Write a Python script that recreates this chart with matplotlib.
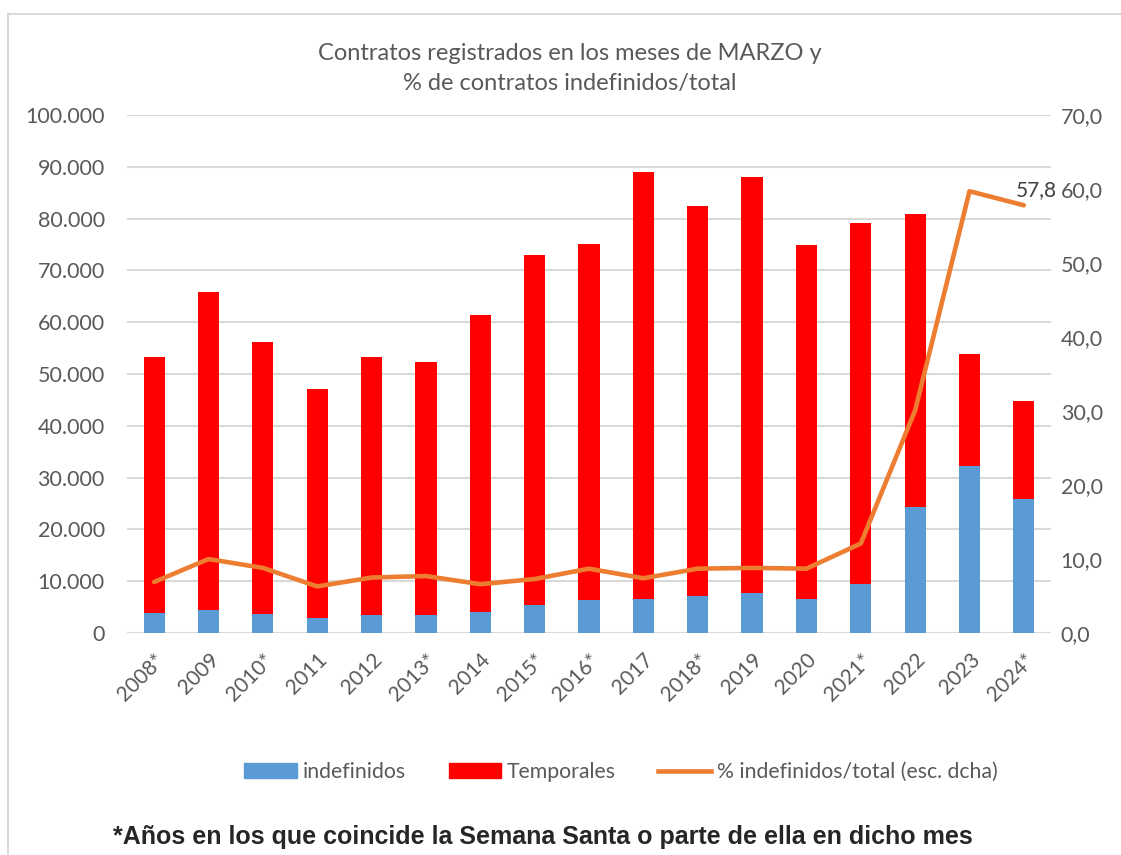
import numpy as np
import matplotlib.pyplot as plt
from matplotlib.lines import Line2D
from matplotlib.patches import Patch
from matplotlib.ticker import FuncFormatter, MultipleLocator

# data
years = ["2008*", "2009", "2010*", "2011", "2012", "2013*", "2014", "2015*", "2016*",
         "2017", "2018*", "2019", "2020", "2021*", "2022", "2023", "2024*"]
total = [53300, 65800, 56200, 47100, 53300, 52300, 61400, 73000, 75100,
         89000, 82500, 88100, 74900, 79100, 80800, 53900, 44800]
indefinidos = [3900, 4400, 3700, 2900, 3500, 3500, 4000, 5400, 6400,
               6600, 7200, 7800, 6500, 9500, 24400, 32300, 25900]
pct = [6.9, 10.0, 8.8, 6.3, 7.5, 7.7, 6.6, 7.3, 8.7,
       7.4, 8.7, 8.8, 8.7, 12.1, 30.1, 59.7, 57.8]

temporales = [t - i for t, i in zip(total, indefinidos)]

blue = "#5B9BD5"
red = "#FF0000"
orange = "#ED7D31"
grey = "#595959"

plt.rcParams['font.family'] = ['Lato', 'DejaVu Sans']

fig = plt.figure(figsize=(11.21, 8.55), dpi=100)
ax = fig.add_axes([0.1133, 0.2596, 0.8243, 0.6059])
ax2 = ax.twinx()

x = np.arange(len(years))
ax.bar(x, indefinidos, width=0.39, color=blue, zorder=2)
ax.bar(x, temporales, width=0.39, bottom=indefinidos, color=red, zorder=2)
ax2.plot(x, pct, color=orange, linewidth=3.3, solid_capstyle='round')
ax2.annotate("57,8", (x[-1], pct[-1]), xytext=(9, 4), textcoords='offset points',
             fontsize=15, color="#404040", va='bottom', ha='center')

ax.set_xlim(-0.5, len(years) - 0.5)
ax.set_ylim(0, 100000)
ax2.set_ylim(0, 70)
ax.yaxis.set_major_locator(MultipleLocator(10000))
ax2.yaxis.set_major_locator(MultipleLocator(10))
ax.yaxis.set_major_formatter(FuncFormatter(lambda v, p: f"{int(v):,}".replace(",", ".")))
ax2.yaxis.set_major_formatter(FuncFormatter(lambda v, p: f"{v:.1f}".replace(".", ",")))
ax.grid(axis='y', color="#D9D9D9", linewidth=1.5, zorder=0)
ax.set_axisbelow(True)

ax.set_xticks(x)
ax.set_xticklabels(years, rotation=45, ha='right', rotation_mode='anchor')
for a in (ax, ax2):
    for s in a.spines.values():
        s.set_visible(False)
    a.tick_params(length=0, labelsize=15.5, labelcolor=grey)
ax.tick_params(axis='y', pad=16)
ax2.tick_params(axis='y', pad=7)
ax.tick_params(axis='x', pad=12, labelsize=15)

fig.text(0.508, 0.920, "Contratos registrados en los meses de MARZO y\n% de contratos indefinidos/total",
         ha='center', va='center', fontsize=17, color=grey, linespacing=1.5)

handles = [Patch(color=blue, label="indefinidos"),
           Patch(color=red, label="Temporales"),
           Line2D([0], [0], color=orange, linewidth=3.3, label="% indefinidos/total (esc. dcha)")]
leg = fig.legend(handles=handles, loc='center', bbox_to_anchor=(0.554, 0.097), ncol=3,
                 frameon=False, fontsize=15.3, handlelength=2.45, handleheight=0.7,
                 handletextpad=0.3, columnspacing=2.0)
for t in leg.get_texts():
    t.set_color(grey)

fig.text(0.101, 0.021, "*Años en los que coincide la Semana Santa o parte de ella en dicho mes",
         ha='left', va='center', fontsize=18, fontweight='bold', color="#262626",
         family=['Liberation Sans', 'DejaVu Sans'])

# chart frame
fig.add_artist(Line2D([0.007, 0.007], [0, 0.984], color="#D9D9D9", linewidth=1.5))
fig.add_artist(Line2D([0.007, 1.0], [0.984, 0.984], color="#D9D9D9", linewidth=1.5))

fig.savefig("out.png", dpi=100)
